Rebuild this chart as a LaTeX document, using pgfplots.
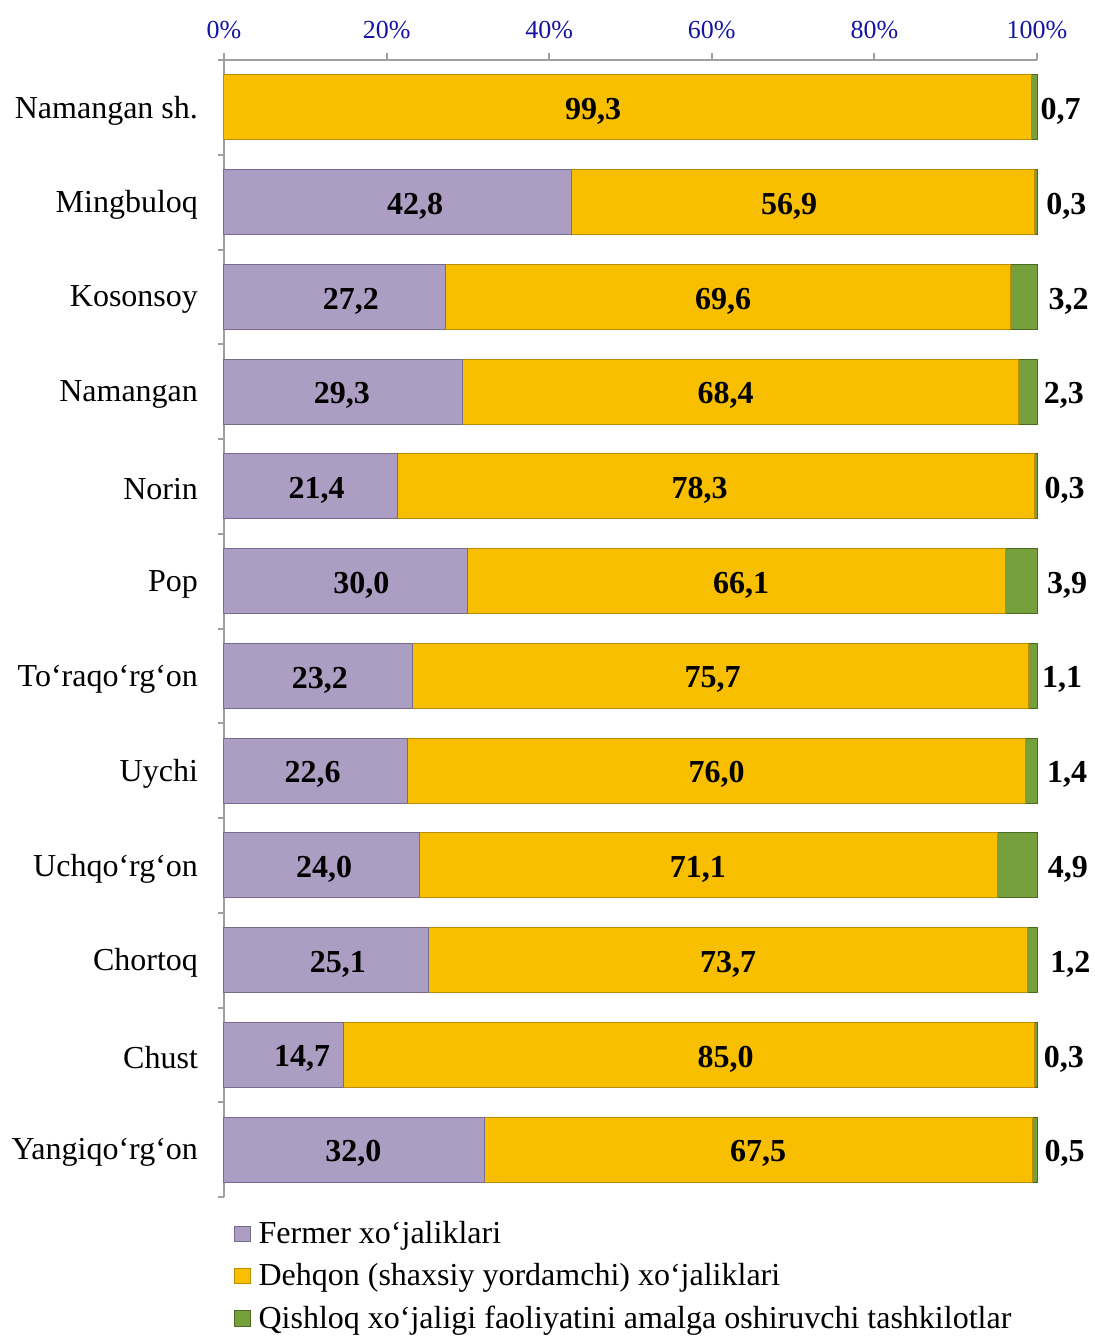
\documentclass[border=0pt]{standalone}
\usepackage{fontspec}
\setmainfont{Liberation Serif}
\usepackage{pgfplots}
\usepackage{pgfplotstable}
\pgfplotsset{compat=1.18}

\definecolor{cPur}{RGB}{172,158,194}
\definecolor{cPurD}{RGB}{120,108,142}
\definecolor{cYel}{RGB}{248,190,0}
\definecolor{cYelD}{RGB}{190,140,0}
\definecolor{cGrn}{RGB}{118,160,60}
\definecolor{cGrnD}{RGB}{75,105,35}
\definecolor{tickblue}{RGB}{20,20,160}

\pgfplotstableread{
y s1 s2 s3
0 0 99.3 0.7
1 42.8 56.9 0.3
2 27.2 69.6 3.2
3 29.3 68.4 2.3
4 21.4 78.3 0.3
5 30.0 66.1 3.9
6 23.2 75.7 1.1
7 22.6 76.0 1.4
8 24.0 71.1 4.9
9 25.1 73.7 1.2
10 14.7 85.0 0.3
11 32.0 67.5 0.5
}\shares

\pgfplotstableread{
x y lab
45.4 0 99,3
102.9 0 0,7
23.5 1 42,8
69.5 1 56,9
103.6 1 0,3
15.6 2 27,2
61.4 2 69,6
103.9 2 3,2
14.5 3 29,3
61.7 3 68,4
103.3 3 2,3
11.4 4 21,4
58.5 4 78,3
103.4 4 0,3
16.9 5 30,0
63.6 5 66,1
103.7 5 3,9
11.8 6 23,2
60.1 6 75,7
103.1 6 1,1
10.9 7 22,6
60.6 7 76,0
103.7 7 1,4
12.3 8 24,0
58.3 8 71,1
103.8 8 4,9
14.0 9 25,1
62.0 9 73,7
104.1 9 1,2
9.6 10 14,7
61.7 10 85,0
103.3 10 0,3
15.9 11 32,0
65.7 11 67,5
103.4 11 0,5
}\labels

\begin{document}
\begin{tikzpicture}
\begin{axis}[
  at={(0,0)}, anchor=north west,
  scale only axis,
  width=406.5pt, height=568.5pt,
  xbar stacked,
  bar width=32.5pt,
  xmin=0, xmax=100,
  ymin=-0.5, ymax=11.5,
  y dir=reverse,
  axis x line*=top,
  axis y line*=left,
  axis line style={draw=gray!75, line width=1pt},
  xtick={0,20,40,60,80,100},
  xticklabels={0\%,20\%,40\%,60\%,80\%,100\%},
  xticklabel style={font=\fontsize{13}{15}\selectfont, text=tickblue, yshift=3.5pt},
  x tick style={draw=gray!75, line width=1pt},
  tick align=outside,
  major tick length=3.5pt,
  ytick={0,...,11},
  yticklabels={Namangan sh.,Mingbuloq,Kosonsoy,Namangan,Norin,Pop,To‘raqo‘rg‘on,Uychi,Uchqo‘rg‘on,Chortoq,Chust,Yangiqo‘rg‘on},
  yticklabel style={font=\fontsize{16}{19}\selectfont, text=black, xshift=-6pt, yshift=-1.5pt},
  y tick style={draw=none},
  extra y ticks={-0.5,0.5,1.5,2.5,3.5,4.5,5.5,6.5,7.5,8.5,9.5,10.5,11.5},
  extra y tick labels={},
  extra y tick style={y tick style={draw=gray!75, line width=1pt}, major tick length=3pt},
  xmajorgrids=false, ymajorgrids=false,
  legend style={at={(0,0)}, anchor=north west, xshift=4pt, yshift=-9pt,
    draw=none, fill=none, font=\fontsize{16}{19}\selectfont,
    row sep=4.5pt, inner sep=1pt,
    nodes={inner xsep=4pt}},
  legend cell align=left,
  legend image code/.code={\draw[#1, line width=0.5pt] (0pt,-3.8pt) rectangle (7.6pt,3.8pt);},
  clip=false,
]
\addplot[fill=cPur, draw=cPurD, line width=0.5pt] table[x=s1, y=y]{\shares};
\addplot[fill=cYel, draw=cYelD, line width=0.5pt] table[x=s2, y=y]{\shares};
\addplot[fill=cGrn, draw=cGrnD, line width=0.5pt] table[x=s3, y=y]{\shares};
\legend{Fermer xo‘jaliklari, Dehqon (shaxsiy yordamchi) xo‘jaliklari, Qishloq xo‘jaligi faoliyatini amalga oshiruvchi tashkilotlar}
\end{axis}
\begin{axis}[
  at={(0,0)}, anchor=north west,
  scale only axis,
  width=406.5pt, height=568.5pt,
  xmin=0, xmax=100,
  ymin=-0.5, ymax=11.5,
  y dir=reverse,
  hide axis,
  clip=false,
]
\addplot[only marks, mark=none, nodes near coords, point meta=explicit symbolic,
  every node near coord/.append style={anchor=center, yshift=-2pt, font=\fontsize{16}{19}\selectfont\bfseries, text=black}]
  table[x=x, y=y, meta=lab]{\labels};
\end{axis}
\pgfresetboundingbox
\path (-112pt,30pt) rectangle (435pt,-639pt);
\end{tikzpicture}
\end{document}
